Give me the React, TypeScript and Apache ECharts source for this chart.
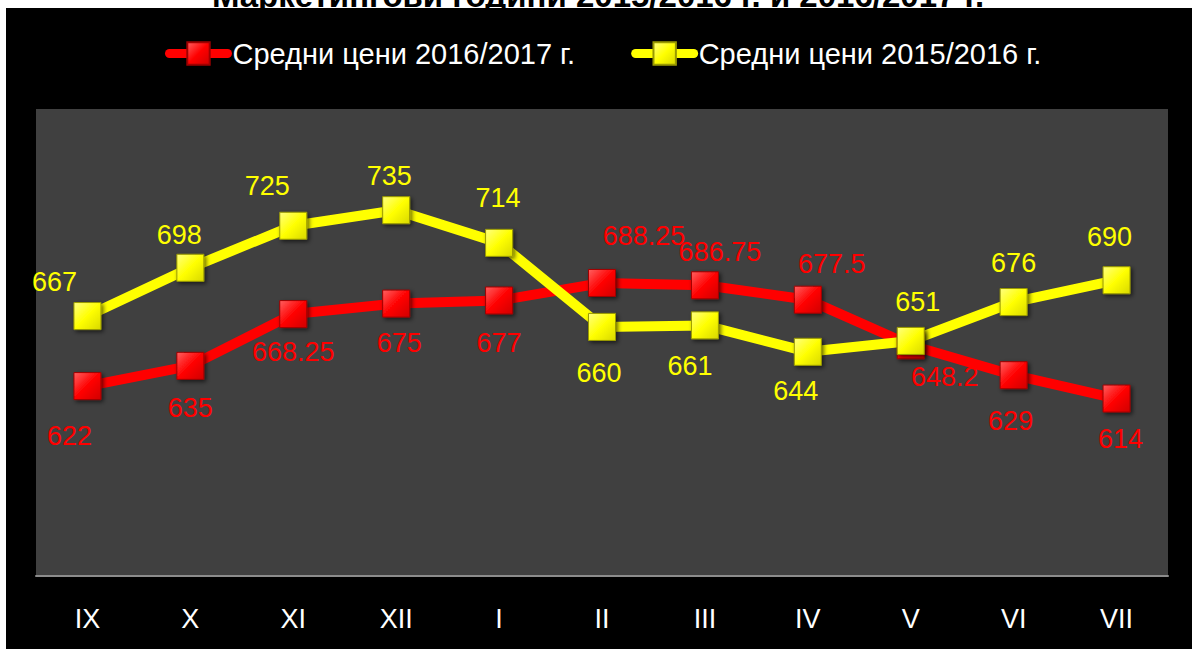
import React, { useEffect, useRef } from "react";
import * as echarts from "echarts";

const title = "Маркетингови години 2015/2016 г. и 2016/2017 г.";
const categories = ["IX", "X", "XI", "XII", "I", "II", "III", "IV", "V", "VI", "VII"];
const seriesNames = ["Средни цени 2016/2017 г.", "Средни цени 2015/2016 г."];
const prices2016_2017 = [622, 635, 668.25, 675, 677, 688.25, 686.75, 677.5, 648.2, 629, 614];
const prices2015_2016 = [667, 698, 725, 735, 714, 660, 661, 644, 651, 676, 690];

// label offsets (label styling) relative to each marker centre
const redLabelOffsets = [
  [-18, 50], [0, 42], [0, 38], [3, 39], [0, 43], [42, -47], [15, -33], [24, -36], [34, 32], [-3, 46], [4, 40],
];
const yellowLabelOffsets = [
  [-33, -34], [-11, -33], [-26, -40], [-7, -34], [-1, -45], [-3, 46], [-15, 41], [-12, 39], [7, -39], [0, -39], [-7, -43],
];

const SANS = "'Liberation Sans', Arial, sans-serif";

function makeSeries(name: string, values: number[], offsets: number[][], color: string, light: string, dark: string, border: string) {
  return {
    name,
    type: "line",
    data: values.map((v, i) => ({
      value: v,
      label: { offset: offsets[i] },
    })),
    symbol: "rect",
    symbolSize: 27,
    lineStyle: { color, width: 10, cap: "round", join: "round" },
    itemStyle: {
      color: new echarts.graphic.LinearGradient(0, 0, 1, 1, [
        { offset: 0, color: light },
        { offset: 0.5, color },
        { offset: 1, color: dark },
      ]),
      borderColor: border,
      borderWidth: 1,
      shadowColor: "rgba(0,0,0,0.6)",
      shadowBlur: 4,
      shadowOffsetX: 2,
      shadowOffsetY: 2,
    },
    label: {
      show: true,
      position: "inside",
      align: "center",
      verticalAlign: "middle",
      color,
      fontFamily: SANS,
      fontSize: 27,
    },
    emphasis: { disabled: true },
  };
}

export default function App() {
  const ref = useRef<HTMLDivElement>(null);
  useEffect(() => {
    if (!ref.current) return;
    const chart = echarts.init(ref.current, undefined, { renderer: "svg" });
    chart.setOption({
      animation: false,
      backgroundColor: "#000000",
      graphic: [
        { type: "rect", shape: { x: 0, y: 0, width: 1192, height: 8 }, style: { fill: "#ffffff" }, silent: true },
        { type: "rect", shape: { x: 0, y: 0, width: 6, height: 649 }, style: { fill: "#ffffff" }, silent: true },
        {
          type: "text",
          x: 598,
          y: 12,
          silent: true,
          style: {
            text: title,
            fill: "#000000",
            font: "bold 33px 'Liberation Sans', Arial, sans-serif",
            textAlign: "center",
            textVerticalAlign: "bottom",
          },
        },
      ],
      legend: {
        left: 160,
        top: 34,
        itemWidth: 58,
        itemHeight: 28,
        itemGap: 56,
        lineStyle: { width: 9, cap: "round" },
        textStyle: { color: "#ffffff", fontSize: 29, fontFamily: SANS },
        data: seriesNames,
      },
      grid: {
        left: 36,
        right: 24,
        top: 109,
        bottom: 73,
        show: true,
        backgroundColor: "#404040",
        borderWidth: 0,
      },
      xAxis: {
        type: "category",
        data: categories,
        boundaryGap: true,
        axisLine: { show: true, lineStyle: { color: "#8c8c8c", width: 2 } },
        axisTick: { show: false },
        axisLabel: { color: "#ffffff", fontSize: 27, fontFamily: SANS, margin: 29 },
        splitLine: { show: false },
      },
      yAxis: {
        type: "value",
        min: 500,
        max: 800,
        interval: 50,
        show: false,
        splitLine: { show: false },
      },
      series: [
        makeSeries(seriesNames[0], prices2016_2017, redLabelOffsets, "#ff0000", "#ff6060", "#d00000", "#a00000"),
        makeSeries(seriesNames[1], prices2015_2016, yellowLabelOffsets, "#ffff00", "#ffff80", "#d8d800", "#9a9a00"),
      ],
    });
    return () => chart.dispose();
  }, []);
  return (
    <div style={{ position: "absolute", left: 0, top: 0, width: 1192, height: 649 }}>
      <div ref={ref} style={{ width: 1192, height: 649 }} />
    </div>
  );
}
